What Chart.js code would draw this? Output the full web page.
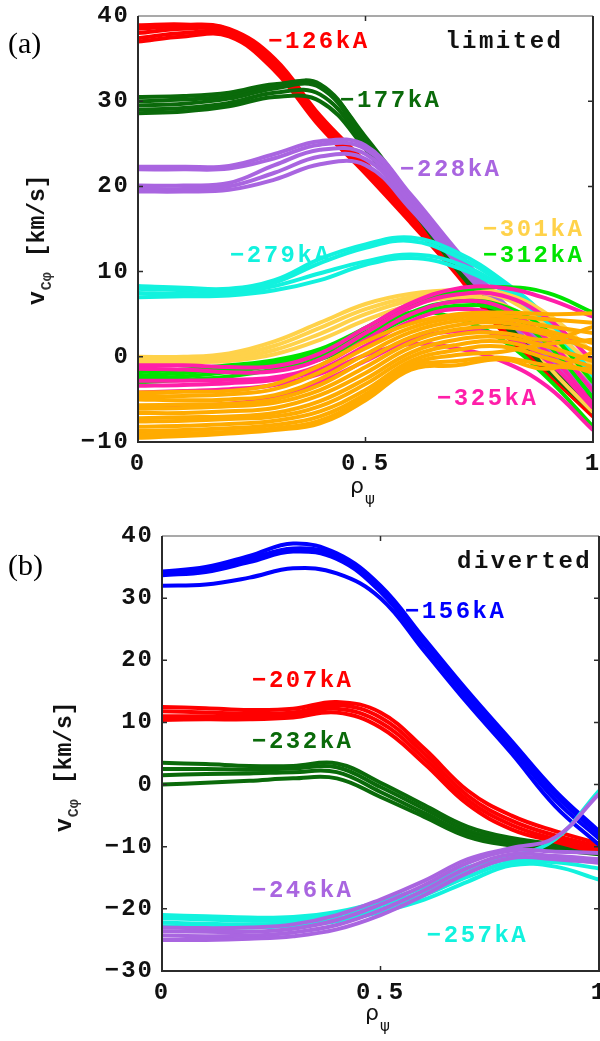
<!DOCTYPE html>
<html>
<head>
<meta charset="utf-8">
<script src="https://cdn.jsdelivr.net/npm/chart.js@4.4.1/dist/chart.umd.min.js"></script>
<style>
  html, body { margin: 0; padding: 0; background: #fff; }
  #page { position: relative; width: 600px; height: 1041px; overflow: hidden; }
  canvas { position: absolute; left: 0; }
  #chartA { top: 0; }
  #chartB { top: 520px; }
</style>
</head>
<body>
<div id="page">
  <canvas id="chartA" width="600" height="520"></canvas>
  <canvas id="chartB" width="600" height="521"></canvas>
</div>
<script>
// normalised radius, shared by every profile
const rho = [0, 0.1, 0.2, 0.3, 0.4, 0.5, 0.6, 0.7, 0.8, 0.9, 1.0];
const xTicks = [0, 0.5, 1];
const yTicksA = [-10, 0, 10, 20, 30, 40];
const yTicksB = [-30, -20, -10, 0, 10, 20, 30, 40];

// ---- (a) limited ----
const red126 = [
  [38.9, 39.0, 38.5, 35.0, 28.3, 22.8, 17.0, 11.0, 5.0, 0.0, -3.0],
  [38.5, 38.8, 38.4, 34.7, 28.0, 22.5, 16.7, 10.7, 4.5, -0.5, -4.0],
  [38.0, 38.5, 38.2, 34.4, 27.7, 22.2, 16.4, 10.3, 4.0, -1.0, -5.0],
  [37.4, 38.0, 37.9, 34.0, 27.3, 21.8, 16.0, 10.0, 3.5, -1.5, -6.0],
  [37.0, 37.6, 37.6, 33.6, 27.0, 21.5, 15.7, 9.7, 3.0, -2.0, -7.0]
];
const green177 = [
  [30.5, 30.6, 31.0, 32.0, 31.8, 25.8, 18.7, 11.5, 5.5, 0.5, -3.0],
  [30.0, 30.2, 30.6, 31.8, 32.0, 25.5, 18.4, 11.2, 5.0, 0.0, -4.0],
  [29.5, 29.7, 30.3, 31.5, 31.6, 25.2, 18.0, 10.8, 4.5, -0.5, -5.0],
  [29.0, 29.2, 29.8, 31.0, 30.8, 24.8, 17.8, 10.6, 4.2, -1.0, -6.0],
  [28.6, 28.8, 29.4, 30.5, 30.0, 24.4, 17.5, 10.3, 4.0, -1.5, -6.5]
];
const purple228 = [
  [22.3, 22.3, 22.4, 23.8, 25.3, 24.8, 19.0, 12.5, 6.5, 1.5, -2.0],
  [22.0, 22.0, 22.1, 23.3, 24.9, 24.4, 18.6, 12.1, 6.0, 1.0, -3.0],
  [20.1, 20.1, 20.4, 22.5, 24.3, 23.8, 18.2, 11.8, 5.8, 0.5, -3.5],
  [19.7, 19.7, 20.0, 21.6, 23.5, 23.2, 17.8, 11.4, 5.5, 0.0, -4.0],
  [19.4, 19.4, 19.6, 20.8, 22.6, 22.5, 17.3, 11.0, 5.2, -0.5, -4.5]
];
const cyan279 = [
  [8.3, 8.1, 8.0, 9.0, 11.5, 13.2, 14.0, 12.3, 9.0, 4.5, -2.0],
  [8.0, 7.8, 7.7, 8.7, 11.0, 12.8, 13.6, 11.8, 8.6, 4.0, -2.3],
  [7.5, 7.4, 7.4, 8.3, 9.8, 11.2, 12.0, 11.0, 8.2, 3.5, -2.6],
  [7.0, 7.1, 7.2, 7.8, 9.0, 10.8, 11.6, 10.5, 7.8, 3.0, -3.0]
];
const yellow301 = [
  [0.0, 0.0, 0.4, 1.8, 4.0, 6.2, 7.4, 7.8, 7.5, 5.0, 0.5],
  [-0.2, -0.2, 0.1, 1.3, 3.4, 5.6, 7.0, 7.5, 7.0, 3.5, -1.0],
  [-0.4, -0.4, -0.2, 0.8, 2.7, 5.0, 6.6, 7.2, 6.0, -1.0, -6.5],
  [-0.6, -0.6, -0.5, 0.3, 2.0, 4.3, 6.1, 6.9, 6.2, 2.5, -3.0]
];
const green312 = [
  [-1.8, -1.5, -1.0, -0.4, 0.9, 3.4, 6.2, 7.6, 8.2, 7.5, 5.2],
  [-2.2, -1.9, -1.4, -0.7, 0.5, 2.9, 5.2, 4.5, 2.0, -2.5, -8.2],
  [-2.6, -2.3, -1.8, -1.0, 0.1, 2.4, 5.2, 6.5, 6.0, 3.0, -3.0],
  [-3.0, -2.7, -2.3, -1.5, -0.3, 2.0, 4.7, 6.0, 5.4, 1.5, -4.8]
];
const magenta325 = [
  [-1.0, -1.0, -1.2, -1.1, 0.4, 3.4, 6.3, 8.0, 8.1, 6.8, 4.7],
  [-1.4, -1.5, -1.8, -1.7, -0.3, 2.8, 5.8, 7.3, 7.2, 4.5, -0.5],
  [-2.8, -2.8, -2.7, -2.4, -1.0, 2.0, 5.0, 6.5, 5.8, 2.0, -4.0],
  [-3.4, -3.3, -3.1, -2.7, -1.5, 1.3, 4.2, 5.6, 4.6, 0.5, -5.5],
  [-4.2, -4.0, -3.8, -3.3, -2.0, 0.2, 1.5, 1.0, -0.5, -3.5, -8.6],
  [-6.0, -5.8, -5.5, -4.8, -3.0, -0.5, 2.0, 3.0, 2.5, -0.5, -6.0]
];
const orangeA = [
  [-4.2, -4.1, -4.0, -3.2, -1.0, 1.8, 3.9, 5.0, 5.2, 5.0, 5.1],
  [-4.6, -4.6, -4.4, -3.8, -1.8, 1.0, 3.4, 4.6, 4.8, 4.4, 4.0],
  [-5.0, -5.1, -5.0, -4.5, -2.6, 0.3, 2.9, 4.2, 4.4, 3.6, 2.8],
  [-5.7, -5.6, -5.5, -5.0, -3.3, -0.4, 2.3, 3.7, 4.0, 3.0, 1.6],
  [-6.1, -6.0, -5.8, -5.4, -3.9, -1.2, 1.7, 3.2, 3.5, 2.6, 0.8],
  [-6.6, -6.6, -6.4, -6.0, -4.5, -1.9, 1.1, 2.6, 2.8, 2.0, 3.5],
  [-7.2, -7.1, -7.0, -6.6, -5.2, -2.6, 0.5, 2.0, 2.3, 1.2, -0.5],
  [-7.6, -7.5, -7.3, -7.0, -5.8, -3.2, 0.0, 1.4, 1.8, 0.4, -1.2],
  [-8.2, -8.1, -7.9, -7.5, -6.4, -3.9, -0.5, 0.8, 1.2, -0.2, -1.9],
  [-8.7, -8.6, -8.4, -8.0, -7.0, -4.4, -0.9, 0.2, 0.6, 1.5, 2.0],
  [-9.1, -9.0, -8.8, -8.4, -7.5, -4.8, -1.2, -0.5, -0.1, -1.0, -1.5],
  [-9.5, -9.3, -9.0, -8.6, -7.8, -5.1, -1.5, -1.0, -0.3, -1.4, 0.5]
];

// ---- (b) diverted ----
const blue156 = [
  [34.3, 35.0, 36.8, 38.8, 37.2, 32.0, 23.5, 15.0, 7.0, -1.0, -7.5],
  [34.0, 34.6, 36.3, 38.0, 36.8, 31.5, 23.0, 14.5, 6.5, -1.7, -8.0],
  [33.7, 34.2, 35.8, 37.5, 36.3, 31.0, 22.4, 13.8, 5.8, -2.5, -8.7],
  [32.0, 32.2, 33.3, 34.8, 34.0, 30.0, 21.5, 13.0, 5.0, -3.5, -9.7]
];
const red207 = [
  [12.5, 12.3, 12.0, 12.2, 13.3, 11.6, 5.8, -1.0, -5.0, -7.5, -9.5],
  [11.8, 11.6, 11.4, 11.6, 12.8, 10.8, 5.0, -1.8, -5.8, -8.2, -10.0],
  [11.0, 11.0, 10.9, 11.2, 12.2, 10.0, 4.2, -2.5, -6.5, -8.8, -10.5],
  [10.4, 10.5, 10.5, 10.8, 11.6, 9.2, 3.4, -3.2, -7.2, -9.2, -11.0]
];
const green232 = [
  [3.5, 3.3, 3.0, 3.0, 3.4, 0.3, -3.3, -6.8, -8.6, -9.6, -10.3],
  [2.5, 2.5, 2.4, 2.6, 2.8, -0.4, -3.9, -7.4, -9.0, -9.9, -10.6],
  [1.5, 1.7, 1.8, 2.0, 2.0, -1.2, -4.6, -7.9, -9.4, -10.2, -10.9],
  [0.0, 0.3, 0.6, 1.0, 1.0, -2.0, -5.2, -8.4, -9.8, -10.5, -11.2]
];
const purple246 = [
  [-23.0, -23.1, -23.0, -22.5, -21.0, -18.5, -15.5, -12.0, -10.2, -8.5, -1.5],
  [-23.6, -23.7, -23.7, -23.2, -21.8, -19.3, -16.2, -12.6, -10.6, -10.8, -11.0],
  [-24.3, -24.4, -24.3, -23.8, -22.6, -20.2, -17.0, -13.4, -11.2, -11.5, -12.0],
  [-25.0, -25.0, -24.8, -24.4, -23.3, -21.0, -17.8, -14.2, -11.8, -12.0, -12.6]
];
const cyan257 = [
  [-21.0, -21.2, -21.4, -21.3, -20.5, -18.8, -16.5, -13.3, -11.6, -8.8, -1.0],
  [-21.5, -21.7, -21.9, -21.8, -21.0, -19.4, -17.2, -14.0, -12.0, -12.0, -12.0],
  [-22.2, -22.4, -22.5, -22.3, -21.6, -20.0, -17.8, -14.8, -12.5, -12.5, -13.5],
  [-22.8, -22.9, -23.0, -22.7, -22.0, -20.5, -18.5, -15.6, -13.0, -13.2, -15.3]
];

const RED = "#ff0000", DKGREEN = "#0a6a0a", PURPLE = "#a965e0", CYAN = "#12f2de",
  YELLOW = "#ffd24a", GREEN = "#00e400", MAGENTA = "#ff1fa9", ORANGE = "#ffab00",
  BLUE = "#0000ff";
const MONO = "'Liberation Mono', 'Courier New', monospace";

const notesA = [
  { text: "\u2212126kA", x: 0.286, y: 36.9, color: RED },
  { text: "limited", x: 0.675, y: 36.9, color: "#111" },
  { text: "\u2212177kA", x: 0.444, y: 30.0, color: DKGREEN },
  { text: "\u2212228kA", x: 0.576, y: 21.9, color: PURPLE },
  { text: "\u2212279kA", x: 0.202, y: 11.8, color: CYAN },
  { text: "\u2212301kA", x: 0.758, y: 14.9, color: YELLOW },
  { text: "\u2212312kA", x: 0.758, y: 11.8, color: GREEN },
  { text: "\u2212325kA", x: 0.657, y: -4.95, color: MAGENTA }
];
const notesB = [
  { text: "diverted", x: 0.675, y: 35.8, color: "#111" },
  { text: "\u2212156kA", x: 0.556, y: 27.8, color: BLUE },
  { text: "\u2212207kA", x: 0.206, y: 16.7, color: RED },
  { text: "\u2212232kA", x: 0.206, y: 6.85, color: DKGREEN },
  { text: "\u2212246kA", x: 0.206, y: -17.1, color: PURPLE },
  { text: "\u2212257kA", x: 0.606, y: -24.4, color: CYAN }
];

// groups listed bottom -> top, reversed so the last group is painted on top
function buildSets(groups) {
  const sets = [];
  groups.forEach(([curves, color]) => {
    curves.forEach((vals) => {
      sets.push({
        data: rho.map((r, i) => ({ x: r, y: vals[i] })),
        borderColor: color,
        borderWidth: 4,
        pointRadius: 0,
        fill: false,
        tension: 0.4,
        clip: 0
      });
    });
  });
  return sets.reverse();
}

const framePlugin = {
  id: "frame",
  beforeDraw(chart) {
    chart.ctx.letterSpacing = "2px";
  },
  afterDatasetsDraw(chart, args, opts) {
    const { ctx, chartArea: a, scales: { x, y } } = chart;
    ctx.save();
    ctx.letterSpacing = "0px";
    // box
    ctx.lineWidth = 1.5;
    ctx.strokeStyle = "#8c8c8c";
    ctx.beginPath();
    ctx.moveTo(a.left, a.top);
    ctx.lineTo(a.right, a.top);
    ctx.stroke();
    ctx.lineWidth = 2;
    ctx.strokeStyle = "#2b2b2b";
    ctx.beginPath();
    ctx.moveTo(a.left, a.top);
    ctx.lineTo(a.left, a.bottom);
    ctx.lineTo(a.right, a.bottom);
    ctx.lineTo(a.right, a.top);
    ctx.stroke();
    // inward ticks
    ctx.lineWidth = 1.5;
    ctx.beginPath();
    y.ticks.forEach((t) => {
      const py = y.getPixelForValue(t.value);
      if (py > a.top + 2 && py < a.bottom - 2) {
        ctx.moveTo(a.left, py); ctx.lineTo(a.left + 5, py);
        ctx.moveTo(a.right, py); ctx.lineTo(a.right - 5, py);
      }
    });
    x.ticks.forEach((t) => {
      const px = x.getPixelForValue(t.value);
      if (px > a.left + 2 && px < a.right - 2) {
        ctx.moveTo(px, a.bottom); ctx.lineTo(px, a.bottom - 5);
        ctx.moveTo(px, a.top); ctx.lineTo(px, a.top + 5);
      }
    });
    ctx.stroke();

    // curve labels
    ctx.font = "bold 24px " + MONO;
    ctx.letterSpacing = "2.5px";
    ctx.textAlign = "left";
    ctx.textBaseline = "middle";
    opts.notes.forEach((n) => {
      ctx.fillStyle = n.color;
      ctx.fillText(n.text, x.getPixelForValue(n.x), y.getPixelForValue(n.y));
    });

    // panel tag
    ctx.letterSpacing = "0px";
    ctx.fillStyle = "#000";
    ctx.font = "30px 'Liberation Serif', 'Times New Roman', serif";
    ctx.fillText(opts.tag, 8, opts.tagY);

    // x title: rho_psi
    ctx.textBaseline = "alphabetic";
    ctx.fillStyle = "#111";
    ctx.font = "22px 'DejaVu Sans', sans-serif";
    ctx.fillText("\u03c1", opts.rhoX, opts.rhoY);
    const rw = ctx.measureText("\u03c1").width;
    ctx.font = "15px 'DejaVu Sans', sans-serif";
    ctx.fillText("\u03c8", opts.rhoX + rw + 1, opts.rhoY + 11);

    // y title: v_Cphi [km/s], rotated
    ctx.translate(opts.vx, opts.vy);
    ctx.rotate(-Math.PI / 2);
    ctx.font = "bold 23px " + MONO;
    ctx.fillText("v", 0, 0);
    let w = ctx.measureText("v").width;
    ctx.font = "bold 15px " + MONO;
    ctx.fillStyle = "#333";
    ctx.fillText("C\u03c6", w + 1, 7);
    w += ctx.measureText("C\u03c6").width + 16;
    ctx.fillStyle = "#111";
    ctx.font = "bold 23px " + MONO;
    ctx.fillText("[km/s]", w, 0);
    ctx.restore();
  }
};

function makeChart(canvasId, groups, cfg) {
  return new Chart(document.getElementById(canvasId), {
    type: "line",
    data: { datasets: buildSets(groups) },
    options: {
      responsive: false,
      animation: false,
      devicePixelRatio: 1,
      layout: { padding: { top: 16, right: cfg.padRight, left: 0, bottom: 0 } },
      scales: {
        x: {
          type: "linear",
          min: 0,
          max: 1,
          grid: { display: false, drawTicks: false },
          border: { display: false },
          afterBuildTicks: (s) => { s.ticks = xTicks.map((v) => ({ value: v })); },
          afterFit: (s) => { s.height = cfg.xHeight; s.paddingLeft = 0; s.paddingRight = 0; },
          ticks: {
            padding: 8,
            maxRotation: 0,
            autoSkip: false,
            color: "#111",
            font: { family: MONO, size: 24, weight: "bold" },
            callback: (v) => String(v)
          }
        },
        y: {
          min: cfg.yTicks[0],
          max: cfg.yTicks[cfg.yTicks.length - 1],
          grid: { display: false, drawTicks: false },
          border: { display: false },
          afterBuildTicks: (s) => { s.ticks = cfg.yTicks.map((v) => ({ value: v })); },
          afterFit: (s) => { s.width = cfg.yWidth; s.paddingTop = 0; s.paddingBottom = 0; },
          ticks: {
            padding: 8,
            autoSkip: false,
            color: "#111",
            font: { family: MONO, size: 24, weight: "bold" },
            callback: (v) => String(v).replace("-", "\u2212")
          }
        }
      },
      plugins: {
        legend: { display: false },
        tooltip: { enabled: false },
        frame: cfg.frame
      }
    },
    plugins: [framePlugin]
  });
}

makeChart("chartA", [
  [red126, RED], [green177, DKGREEN], [purple228, PURPLE], [cyan279, CYAN],
  [yellow301, YELLOW], [green312, GREEN], [magenta325, MAGENTA], [orangeA, ORANGE]
], {
  padRight: 7, xHeight: 78, yWidth: 138, yTicks: yTicksA,
  frame: { notes: notesA, tag: "(a)", tagY: 45, rhoX: 350, rhoY: 493, vx: 44, vy: 305 }
});

makeChart("chartB", [
  [green232, DKGREEN], [red207, RED], [blue156, BLUE], [cyan257, CYAN], [purple246, PURPLE]
], {
  padRight: 1, xHeight: 70, yWidth: 162, yTicks: yTicksB,
  frame: { notes: notesB, tag: "(b)", tagY: 47, rhoX: 365, rhoY: 500, vx: 71, vy: 312 }
});
</script>
</body>
</html>
